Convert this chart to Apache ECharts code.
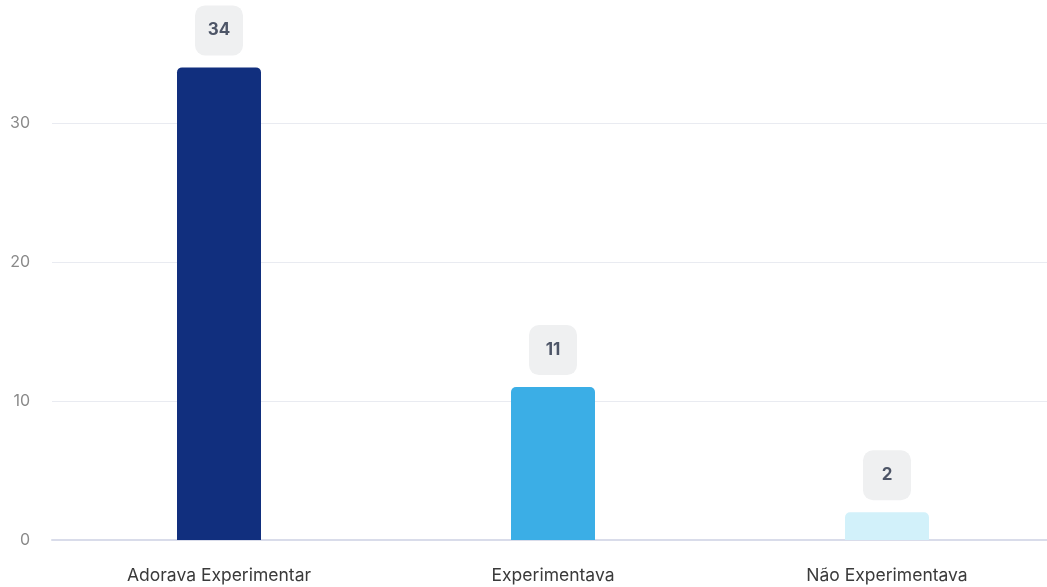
<!DOCTYPE html>
<html>
<head>
<meta charset="utf-8">
<script src="https://cdn.jsdelivr.net/npm/echarts@6/dist/echarts.min.js"></script>
<style>
  html, body { margin: 0; padding: 0; background: #fff; }
  #chart { width: 1047px; height: 587px; }
</style>
</head>
<body>
<div id="chart"></div>
<script>
var categories = ['Adorava Experimentar', 'Experimentava', 'Não Experimentava'];
var values = [34, 11, 2];
var barColors = ['#112f7e', '#3baee6', '#d2f1fa'];

var chart = echarts.init(document.getElementById('chart'));
chart.setOption({
    animation: false,
    grid: { left: 52, right: -7, top: 4, bottom: 47, containLabel: false, outerBoundsMode: 'none' },
    xAxis: {
        type: 'category',
        data: categories,
        axisLine: { lineStyle: { color: '#d9dcea', width: 2 } },
        axisTick: { show: false },
        axisLabel: { color: '#3a3a3a', fontSize: 17.5, fontFamily: 'Inter', margin: 27 }
    },
    yAxis: {
        type: 'value',
        min: 0,
        max: 38.56,
        interval: 10,
        axisLine: { show: false },
        axisTick: { show: false },
        splitLine: { show: true, showMaxLine: false, lineStyle: { color: '#e9ebf1' } },
        axisLabel: { color: '#8a8a8a', fontSize: 16, fontFamily: 'Inter', margin: 22, showMaxLabel: false }
    },
    series: [{
        type: 'bar',
        barWidth: 84,
        data: values.map(function (v, i) {
            return { value: v, itemStyle: { color: barColors[i] } };
        }),
        itemStyle: { borderRadius: [5, 5, 0, 0] },
        label: {
            show: true,
            position: 'top',
            distance: 12,
            color: '#4d5567',
            fontSize: 17,
            fontWeight: 'bold',
            fontFamily: 'Inter',
            backgroundColor: '#eff0f1',
            borderRadius: 10,
            width: 48,
            lineHeight: 18,
            padding: [16, 0, 16, 0],
            align: 'center'
        }
    }]
});
</script>
</body>
</html>
